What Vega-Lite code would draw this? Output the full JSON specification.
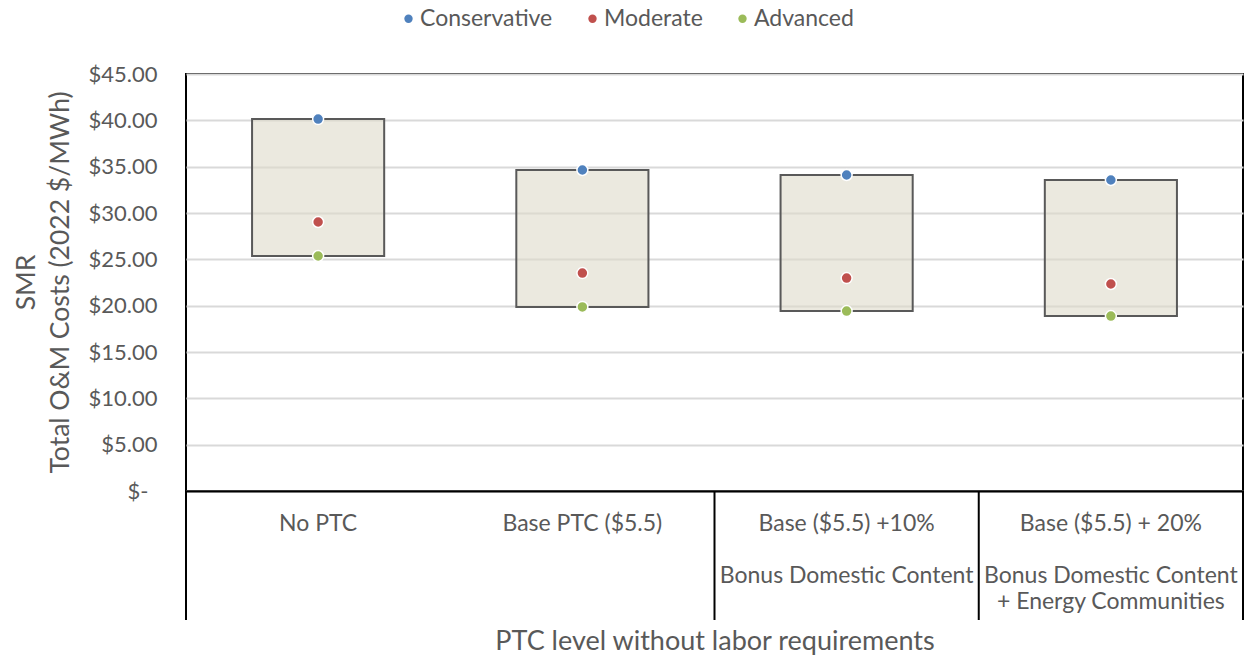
{
  "$schema": "https://vega.github.io/schema/vega-lite/v6.json",
  "width": 1057,
  "height": 417,
  "autosize": "none",
  "padding": {"left": 186, "top": 74, "right": 8, "bottom": 169},
  "background": "white",
  "config": {
    "font": "Lato",
    "view": {"stroke": "black", "strokeWidth": 2},
    "axis": {"labelColor": "#595959", "titleColor": "#595959", "labelFont": "Lato", "titleFont": "Lato", "titleFontWeight": "normal"},
    "legend": {"labelColor": "#595959", "labelFont": "Lato"}
  },
  "data": {
    "values": [
      {"cat": "No PTC", "scenario": "Conservative", "value": 40.14},
      {"cat": "No PTC", "scenario": "Moderate", "value": 29.03},
      {"cat": "No PTC", "scenario": "Advanced", "value": 25.36},
      {"cat": "Base PTC ($5.5)", "scenario": "Conservative", "value": 34.64},
      {"cat": "Base PTC ($5.5)", "scenario": "Moderate", "value": 23.52},
      {"cat": "Base PTC ($5.5)", "scenario": "Advanced", "value": 19.86},
      {"cat": "Base ($5.5) +10%|\u200b|Bonus Domestic Content", "scenario": "Conservative", "value": 34.10},
      {"cat": "Base ($5.5) +10%|\u200b|Bonus Domestic Content", "scenario": "Moderate", "value": 22.98},
      {"cat": "Base ($5.5) +10%|\u200b|Bonus Domestic Content", "scenario": "Advanced", "value": 19.42},
      {"cat": "Base ($5.5) + 20%|\u200b|Bonus Domestic Content|+ Energy Communities", "scenario": "Conservative", "value": 33.56},
      {"cat": "Base ($5.5) + 20%|\u200b|Bonus Domestic Content|+ Energy Communities", "scenario": "Moderate", "value": 22.34},
      {"cat": "Base ($5.5) + 20%|\u200b|Bonus Domestic Content|+ Energy Communities", "scenario": "Advanced", "value": 18.88}
    ]
  },
  "layer": [
    {
      "mark": {"type": "bar", "width": {"band": 0.5}, "fill": "#DEDBCA", "fillOpacity": 0.6, "stroke": "#595959", "strokeWidth": 2},
      "encoding": {
        "x": {
          "field": "cat", "type": "nominal", "sort": null,
          "scale": {"paddingInner": 0, "paddingOuter": 0},
          "axis": {
            "title": "PTC level without labor requirements",
            "titleFontSize": 27, "titleY": 137, "titleBaseline": "top",
            "labelExpr": "split(datum.label, '|')",
            "labelAngle": 0, "labelFontSize": 23, "labelLineHeight": 26,
            "labelPadding": 21, "ticks": false, "tickSize": 0,
            "domainColor": "black", "domainWidth": 2, "labelLimit": 400
          }
        },
        "y": {
          "aggregate": "min", "field": "value", "type": "quantitative",
          "scale": {"domain": [0, 45], "nice": false},
          "axis": {
            "title": ["SMR", "Total O&M Costs (2022 $/MWh)"],
            "titleFontSize": 26.5, "titleLineHeight": 34, "titleAngle": -90,
            "titleX": -173, "titleY": 208, "titleBaseline": "top", "titleAlign": "center",
            "values": [0, 5, 10, 15, 20, 25, 30, 35, 40, 45],
            "labelExpr": "datum.value === 0 ? '$-' : format(datum.value, '$.2f')",
            "labelFontSize": 22,
            "labelPadding": {"condition": {"test": "datum.value === 0", "value": 38}, "value": 29},
            "ticks": false, "tickSize": 0,
            "domain": false, "grid": true, "gridColor": "#d9d9d9", "gridWidth": 2
          }
        },
        "y2": {"aggregate": "max", "field": "value"}
      }
    },
    {
      "data": {"values": [{"cat": "No PTC"}, {"cat": "Base ($5.5) +10%|\u200b|Bonus Domestic Content"}, {"cat": "Base ($5.5) + 20%|\u200b|Bonus Domestic Content|+ Energy Communities"}]},
      "mark": {"type": "rule", "color": "black", "strokeWidth": 2},
      "encoding": {
        "x": {"field": "cat", "type": "nominal", "sort": null, "bandPosition": 0},
        "y": {"datum": 0},
        "y2": {"datum": -13.92}
      }
    },
    {
      "data": {"values": [{"cat": "Base ($5.5) + 20%|\u200b|Bonus Domestic Content|+ Energy Communities"}]},
      "mark": {"type": "rule", "color": "black", "strokeWidth": 2},
      "encoding": {
        "x": {"field": "cat", "type": "nominal", "sort": null, "bandPosition": 1},
        "y": {"datum": 0},
        "y2": {"datum": -13.92}
      }
    },
    {
      "mark": {"type": "point", "filled": true, "size": 120, "stroke": "white", "strokeWidth": 1.5, "opacity": 1},
      "encoding": {
        "x": {"field": "cat", "type": "nominal", "sort": null},
        "y": {"field": "value", "type": "quantitative"},
        "color": {
          "field": "scenario", "type": "nominal",
          "scale": {"domain": ["Conservative", "Moderate", "Advanced"], "range": ["#4F81BD", "#C0504D", "#9BBB59"]},
          "legend": {
            "title": null, "orient": "none", "direction": "horizontal",
            "legendX": 211, "legendY": -67,
            "symbolType": "circle", "symbolSize": 70, "symbolStrokeWidth": 0,
            "labelFontSize": 23, "columnPadding": 28, "labelOffset": 0
          }
        }
      }
    }
  ]
}
